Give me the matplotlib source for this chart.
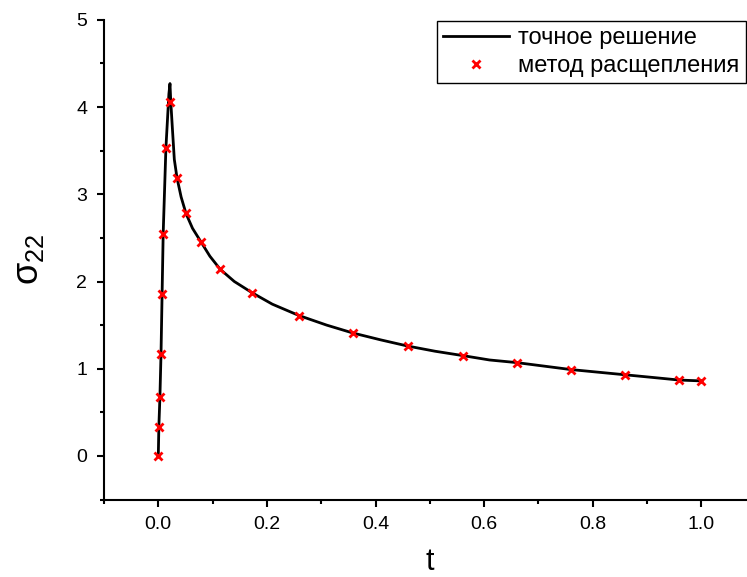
import matplotlib
matplotlib.use("Agg")
import matplotlib.pyplot as plt
from matplotlib.ticker import MultipleLocator

plt.rcParams["font.family"] = ["Liberation Sans", "DejaVu Sans"]
plt.rcParams["mathtext.fontset"] = "custom"
plt.rcParams["mathtext.rm"] = "Liberation Sans"
plt.rcParams["mathtext.it"] = "Liberation Sans"

# exact solution
t_exact = [0.0, 0.001, 0.003, 0.005, 0.007, 0.009, 0.014, 0.0195, 0.0215,
           0.023, 0.026, 0.0295, 0.0344, 0.042, 0.051, 0.063, 0.079, 0.095,
           0.114, 0.14, 0.173, 0.21, 0.259, 0.31, 0.358, 0.41, 0.459, 0.51,
           0.561, 0.61, 0.66, 0.71, 0.76, 0.81, 0.86, 0.91, 0.959, 1.0]
s_exact = [0.0, 0.33, 0.68, 1.17, 1.86, 2.55, 3.53, 4.15, 4.27,
           4.06, 3.75, 3.40, 3.19, 2.97, 2.78, 2.61, 2.45, 2.29,
           2.14, 2.00, 1.87, 1.74, 1.61, 1.50, 1.41, 1.33, 1.26, 1.20,
           1.15, 1.10, 1.07, 1.03, 0.99, 0.96, 0.93, 0.90, 0.87, 0.86]

# splitting method points
t_split = [0.0, 0.001, 0.003, 0.005, 0.007, 0.009, 0.014, 0.022, 0.0344,
           0.051, 0.079, 0.114, 0.173, 0.259, 0.358, 0.459, 0.561, 0.660,
           0.760, 0.860, 0.959, 1.0]
s_split = [0.0, 0.33, 0.68, 1.17, 1.86, 2.55, 3.53, 4.06, 3.19,
           2.78, 2.45, 2.14, 1.87, 1.61, 1.41, 1.26, 1.15, 1.07,
           0.99, 0.93, 0.87, 0.86]

fig = plt.figure(figsize=(7.47, 5.77), dpi=100)
ax = fig.add_axes([104 / 747, 77.5 / 577, 651.6 / 747, 479.6 / 577])

ax.plot(t_exact, s_exact, color="black", lw=2, label="точное решение")
ax.plot(t_split, s_split, ls="none", marker="x", color="red", ms=6, mew=2,
        label="метод расщепления")

ax.set_xlim(-0.1, 1.1)
ax.set_ylim(-0.5, 5)
ax.xaxis.set_minor_locator(MultipleLocator(0.1))
ax.yaxis.set_minor_locator(MultipleLocator(0.5))
ax.set_xticks([0.0, 0.2, 0.4, 0.6, 0.8, 1.0])
ax.set_xticklabels(["0.0", "0.2", "0.4", "0.6", "0.8", "1.0"])
ax.set_yticks([0, 1, 2, 3, 4, 5])

for s in ["top", "right"]:
    ax.spines[s].set_visible(False)
for s in ["left", "bottom"]:
    ax.spines[s].set_linewidth(1.5)
ax.tick_params(which="major", direction="out", length=5, width=1.5,
               labelsize=14, pad=7)
ax.tick_params(which="minor", direction="out", length=3, width=1.5)

ax.set_xlabel("t", fontsize=22, labelpad=10)
ax.set_ylabel(r"$\sigma_{22}$", fontsize=26, labelpad=22)

leg = ax.legend(loc="upper left", bbox_to_anchor=(437 / 747, 1 - 21 / 577),
                bbox_transform=fig.transFigure, borderaxespad=0,
                fancybox=False, framealpha=1, edgecolor="black",
                fontsize=17, handlelength=2.8, handletextpad=0.4,
                labelspacing=0.25, borderpad=0.25)
leg.get_frame().set_linewidth(1)

fig.savefig("out.png", dpi=100)
